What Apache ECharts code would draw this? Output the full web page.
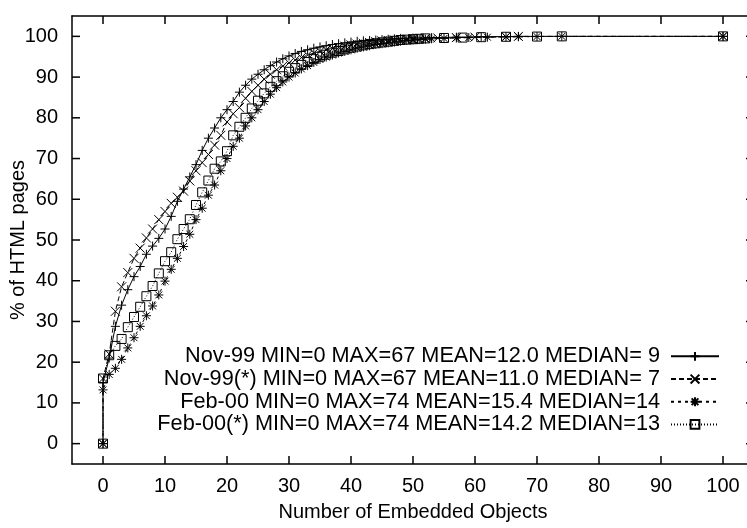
<!DOCTYPE html>
<html><head><meta charset="utf-8">
<script src="https://cdn.jsdelivr.net/npm/echarts@6/dist/echarts.min.js"></script>
<style>html,body{margin:0;padding:0;background:#fff}#c{width:747px;height:528px}</style>
</head><body><div id="c"></div>
<script>
var seriesNames = [
  "Nov-99 MIN=0 MAX=67 MEAN=12.0 MEDIAN= 9",
  "Nov-99(*) MIN=0 MAX=67 MEAN=11.0 MEDIAN= 7",
  "Feb-00 MIN=0 MAX=74 MEAN=15.4 MEDIAN=14",
  "Feb-00(*) MIN=0 MAX=74 MEAN=14.2 MEDIAN=13"
];
var tickValues = [0,10,20,30,40,50,60,70,80,90,100];
var xAxisTitle = "Number of Embedded Objects";
var yAxisTitle = "% of HTML pages";

var nov99X = [0,0,1,2,3,4,5,6,7,8,9,10,11,12,13,14,15,16,17,18,19,20,21,22,23,24,25,26,27,28,29,30,31,32,33,34,35,36,37,38,39,40,41,42,43,44,45,46,47,48,50,53,57,61,67,100];
var nov99Y = [0,15,21,28.8,34,37.8,41,43.5,46.5,48.5,50.4,52.7,55.8,59.5,62.5,65.5,68.5,72,75,77.5,80,82,84,86.3,88,89.5,90.7,91.8,92.8,93.7,94.5,95.2,95.8,96.3,96.7,97.1,97.4,97.7,98,98.2,98.4,98.6,98.8,98.9,99,99.1,99.2,99.3,99.4,99.5,99.6,99.7,99.8,99.9,100,100];

var nov99sX = [0,0,1,2,3,4,5,6,7,8,9,10,11,12,13,14,15,16,17,18,19,20,21,22,23,24,25,26,27,28,29,30,31,32,33,34,35,36,37,38,39,40,41,42,43,44,45,46,47,48,49,50,52,54,57,60,65,67,100];
var nov99sY = [0,16,22,32.5,38.5,42,45.5,48,50.5,52.7,55,57,59,60.5,62,64.5,67,69,71,73.3,75.7,79,81,82.5,84.8,86.5,88,89.5,90.7,91.8,92.7,93.5,94.2,94.8,95.4,95.9,96.3,96.7,97,97.3,97.6,97.9,98.1,98.3,98.5,98.7,98.9,99,99.1,99.2,99.3,99.4,99.5,99.6,99.7,99.8,99.9,100,100];

var feb00X = [0,0,1,2,3,4,5,6,7,8,9,10,11,12,13,14,15,16,17,18,19,20,21,22,23,24,25,26,27,28,29,30,31,32,33,34,35,36,37,38,39,40,41,42,43,44,45,46,47,48,49,50,51,52,53,55,57,59,62,65,67,70,74,100];
var feb00Y = [0,13.2,17,18.5,20.7,23.5,26,28.8,31.4,33.8,36.5,39.9,42.8,45.5,48.4,51.4,55,57.8,61,63.5,67,70,73,75,78,80,82,84,85.8,87.4,88.8,90,91,92,92.8,93.6,94.3,94.9,95.4,95.9,96.3,96.7,97.1,97.4,97.7,98,98.2,98.4,98.6,98.8,99,99.1,99.2,99.3,99.4,99.5,99.6,99.7,99.8,99.85,99.9,99.95,100,100];

var feb00sX = [0,0,1,2,3,4,5,6,7,8,9,10,11,12,13,14,15,16,17,18,19,20,21,22,23,24,25,26,27,28,29,30,31,32,33,34,35,36,37,38,39,40,41,42,43,44,45,46,47,48,49,50,51,52,55,58,61,65,70,74,100];
var feb00sY = [0,16,21.7,24,25.7,28.6,31.1,33.6,36.2,38.7,41.8,44.8,47,50.2,52.7,55.1,58.6,61.7,64.6,67.5,69.3,71.8,75.7,77.8,80,82.3,84.2,86,87.6,89,90.2,91.3,92.2,93,93.7,94.4,95,95.5,96,96.4,96.8,97.2,97.5,97.8,98.1,98.3,98.5,98.7,98.9,99.1,99.2,99.3,99.4,99.5,99.6,99.7,99.8,99.9,99.95,100,100];

function pairs(xs, ys){ var out=[]; for (var i=0;i<xs.length;i++) out.push([xs[i], ys[i]]); return out; }

var SYM_PLUS = 'path://M0,5L10,5M5,0L5,10';
var SYM_X = 'path://M0,0L10,10M10,0L0,10';
var SYM_STAR = 'path://M0,5L10,5M5,0L5,10M1.2,1.2L8.8,8.8M8.8,1.2L1.2,8.8';
var SYM_SQ = 'path://M0,0L10,0L10,10L0,10Z';

var FONT = 'Liberation Sans, Arial, sans-serif';
var AX_MIN = -5, AX_MAX = 105, TICK_LEN = 8;

function mkSeries(name, data, sym, dash){
  return {
    name: name, type: 'line', data: data,
    symbol: sym, symbolSize: 9, showAllSymbol: true,
    lineStyle: {color: '#000', width: 1, type: dash},
    itemStyle: {color: 'transparent', borderColor: '#000', borderWidth: 1},
    emphasis: {disabled: true}, silent: true
  };
}

// Mirrored inside tick marks on all four sides, placed through the axes' scales.
var tickData = [];
tickValues.forEach(function(v){ tickData.push([v, 0]); tickData.push([v, 1]); });
function renderTick(params, api){
  var v = api.value(0), kind = api.value(1);
  var st = {stroke: '#000', lineWidth: 1.5};
  var a, b;
  if (kind === 0) {
    a = api.coord([v, AX_MIN]); b = api.coord([v, AX_MAX]);
    return {type: 'group', children: [
      {type: 'line', shape: {x1: a[0], y1: a[1], x2: a[0], y2: a[1] - TICK_LEN}, style: st},
      {type: 'line', shape: {x1: b[0], y1: b[1], x2: b[0], y2: b[1] + TICK_LEN}, style: st}
    ]};
  }
  a = api.coord([AX_MIN, v]); b = api.coord([AX_MAX, v]);
  return {type: 'group', children: [
    {type: 'line', shape: {x1: a[0], y1: a[1], x2: a[0] + TICK_LEN, y2: a[1]}, style: st},
    {type: 'line', shape: {x1: b[0], y1: b[1], x2: b[0] - TICK_LEN, y2: b[1]}, style: st}
  ]};
}

var chart = echarts.init(document.getElementById('c'), null, {renderer: 'canvas'});
function axisCommon(){
  return {
    type: 'value', min: AX_MIN, max: AX_MAX,
    axisLine: {show: true, onZero: false, lineStyle: {color: '#000', width: 1.5}},
    splitLine: {show: false},
    axisTick: {show: false}
  };
}
chart.setOption({
  animation: false,
  grid: {left: 72, top: 16, right: -7, bottom: 64, containLabel: false, outerBoundsMode: 'none', show: false},
  xAxis: [
    Object.assign(axisCommon(), {position: 'bottom',
      axisLabel: {customValues: tickValues, color: '#000', fontSize: 20, fontFamily: FONT, margin: 12},
      name: xAxisTitle, nameLocation: 'middle', nameGap: 38, nameMoveOverlap: false,
      nameTextStyle: {color: '#000', fontSize: 20, fontFamily: FONT}}),
    Object.assign(axisCommon(), {position: 'top', axisLabel: {show: false}})
  ],
  yAxis: [
    Object.assign(axisCommon(), {position: 'left',
      axisLabel: {customValues: tickValues, color: '#000', fontSize: 20, fontFamily: FONT, margin: 14},
      name: yAxisTitle, nameLocation: 'middle', nameGap: 44, nameRotate: 90, nameMoveOverlap: false,
      nameTextStyle: {color: '#000', fontSize: 20, fontFamily: FONT}}),
    Object.assign(axisCommon(), {position: 'right', axisLabel: {show: false}})
  ],
  legend: {
    orient: 'vertical', align: 'right', right: 22, top: 340,
    itemWidth: 48, itemHeight: 11, itemGap: 0,
    textStyle: {color: '#000', fontSize: 21.7, lineHeight: 22.7, fontFamily: FONT, padding: [0, 6, 0, 0]},
    data: seriesNames
  },
  series: [
    mkSeries(seriesNames[0], pairs(nov99X, nov99Y), SYM_PLUS, 'solid'),
    mkSeries(seriesNames[1], pairs(nov99sX, nov99sY), SYM_X, [5,3]),
    mkSeries(seriesNames[2], pairs(feb00X, feb00Y), SYM_STAR, [3,4]),
    mkSeries(seriesNames[3], pairs(feb00sX, feb00sY), SYM_SQ, [1,2]),
    {type: 'custom', name: 'ticks', data: tickData, renderItem: renderTick, silent: true,
     clip: false, xAxisIndex: 0, yAxisIndex: 0, z: 10}
  ]
});
</script></body></html>
